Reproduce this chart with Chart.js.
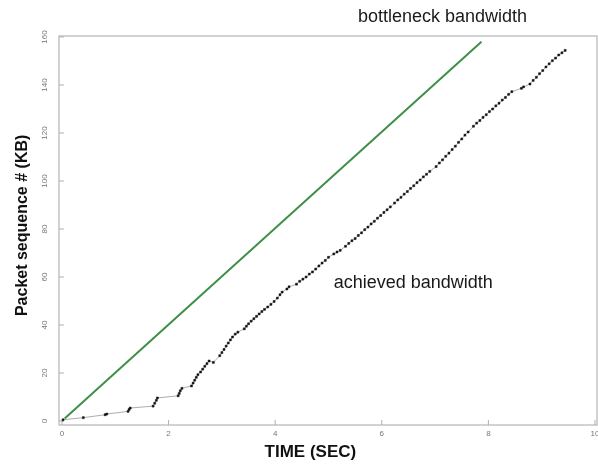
<!DOCTYPE html>
<html>
<head>
<meta charset="utf-8">
<script src="https://cdn.jsdelivr.net/npm/chart.js@4"></script>
<style>
html, body { margin: 0; padding: 0; background: #fff; }
</style>
</head>
<body>
<canvas id="chart" width="598" height="466"></canvas>
<script>
const xTicks = [0, 2, 4, 6, 8, 10];
const yTicks = [0, 20, 40, 60, 80, 100, 120, 140, 160];

// bottleneck bandwidth (straight line)
const bottleneckTime = [0.05, 7.87];
const bottleneckSeq = [1, 158];

// achieved bandwidth
const achievedTime = [
  0.02, 0.40, 0.81, 0.84, 1.24, 1.26, 1.28, 1.71, 1.74, 1.77, 1.79,
  2.18, 2.20, 2.22, 2.25, 2.43, 2.46, 2.49, 2.52, 2.55, 2.60, 2.64, 2.68, 2.72, 2.76, 2.84,
  2.96, 3.00, 3.04, 3.08, 3.12, 3.16, 3.20, 3.25, 3.30,
  3.42, 3.46, 3.50, 3.55, 3.60, 3.65, 3.70, 3.75, 3.80, 3.86, 3.92, 3.98, 4.04, 4.09, 4.13,
  4.22, 4.26,
  4.40, 4.46, 4.52, 4.58, 4.64, 4.70, 4.76, 4.82, 4.88, 4.94, 5.00,
  5.10, 5.16, 5.22, 5.32, 5.38, 5.44,
  5.50, 5.56, 5.62, 5.68, 5.74, 5.80, 5.86, 5.92, 5.98, 6.04, 6.10, 6.16,
  6.24, 6.30, 6.36, 6.42, 6.48, 6.54, 6.60, 6.66, 6.72, 6.78, 6.84, 6.90,
  7.02, 7.08, 7.14, 7.20, 7.26, 7.32, 7.38, 7.44, 7.50, 7.56, 7.62,
  7.72, 7.78, 7.84, 7.90, 7.96, 8.02, 8.08, 8.14, 8.20, 8.26, 8.32, 8.38, 8.44,
  8.62, 8.66,
  8.78, 8.84, 8.90, 8.96, 9.02, 9.08, 9.14, 9.20, 9.26, 9.32, 9.38, 9.44
];
const achievedSeq = [
  0.5, 1.4, 2.6, 2.9, 4.0, 4.8, 5.4, 6.2, 7.4, 8.6, 9.6,
  10.5, 11.5, 12.6, 13.6, 14.6, 15.8, 17.0, 18.2, 19.3, 20.4, 21.6, 22.8, 23.9, 25.0, 24.4,
  27.2, 28.5, 29.8, 31.2, 32.5, 33.8, 35.0, 36.2, 37.0,
  38.4, 39.5, 40.5, 41.6, 42.6, 43.6, 44.6, 45.6, 46.5, 47.5, 48.6, 49.8, 51.2, 52.6, 53.7,
  55.0, 55.9,
  57.0, 58.2, 59.1, 60.0, 61.2, 62.1, 63.3, 64.6, 65.8, 66.9, 68.2,
  69.6, 70.4, 71.1, 72.8, 74.0, 75.1,
  76.0, 77.3, 78.4, 79.7, 80.8, 82.1, 83.2, 84.5, 85.6, 86.9, 88.0, 89.2,
  90.8, 92.1, 93.2, 94.5, 95.6, 96.9, 98.0, 99.3, 100.4, 101.7, 102.8, 104.0,
  106.0, 107.5, 108.8, 110.3, 111.6, 113.1, 114.5, 116.1, 117.5, 119.1, 120.4,
  122.8, 124.1, 125.2, 126.5, 127.6, 128.9, 130.0, 131.3, 132.4, 133.7, 134.8, 136.1, 137.2,
  138.6, 139.2,
  140.4, 141.9, 143.2, 144.7, 146.0, 147.5, 148.8, 150.1, 151.2, 152.5, 153.4, 154.4
];

const FONT = '"Liberation Sans", Arial, sans-serif';

const framePlugin = {
  id: 'frame',
  beforeDatasetsDraw(chart) {
    const {ctx, chartArea: a, scales} = chart;
    ctx.save();
    ctx.strokeStyle = '#c4c4c4';
    ctx.lineWidth = 1.5;
    ctx.strokeRect(a.left, a.top, a.right - a.left, a.bottom - a.top);
    // inward tick marks
    ctx.lineWidth = 1;
    ctx.strokeStyle = '#b0b0b0';
    ctx.beginPath();
    scales.x.ticks.forEach(t => {
      const px = scales.x.getPixelForValue(t.value);
      ctx.moveTo(px, a.bottom);
      ctx.lineTo(px, a.bottom - 5);
    });
    scales.y.ticks.forEach(t => {
      const py = scales.y.getPixelForValue(t.value);
      ctx.moveTo(a.left, py);
      ctx.lineTo(a.left + 5, py);
    });
    ctx.stroke();
    ctx.restore();
  }
};

// annotations and axis titles
const labelPlugin = {
  id: 'labels',
  afterDraw(chart) {
    const {ctx, scales} = chart;
    ctx.save();
    ctx.fillStyle = '#1a1a1a';
    ctx.font = '18px ' + FONT;
    ctx.textAlign = 'center';
    ctx.textBaseline = 'middle';
    ctx.fillText('bottleneck bandwidth', scales.x.getPixelForValue(7.14), scales.y.getPixelForValue(168.5));
    ctx.fillText('achieved bandwidth', scales.x.getPixelForValue(6.59), scales.y.getPixelForValue(57.5));

    ctx.fillStyle = '#111';
    ctx.font = 'bold 17px ' + FONT;
    ctx.fillText('TIME (SEC)', scales.x.getPixelForValue(4.66), 452);

    ctx.font = 'bold 16px ' + FONT;
    ctx.translate(23, scales.y.getPixelForValue(81.5));
    ctx.rotate(-Math.PI / 2);
    ctx.fillText('Packet sequence # (KB)', 0, 0);
    ctx.restore();
  }
};

new Chart(document.getElementById('chart'), {
  type: 'scatter',
  data: {
    datasets: [
      {
        label: 'bottleneck',
        data: bottleneckTime.map((t, i) => ({x: t, y: bottleneckSeq[i]})),
        showLine: true,
        borderColor: '#3f8f48',
        borderWidth: 2,
        pointRadius: 0
      },
      {
        label: 'achieved',
        data: achievedTime.map((t, i) => ({x: t, y: achievedSeq[i]})),
        showLine: true,
        borderColor: '#8a8a8a',
        borderWidth: 0.7,
        pointStyle: 'rect',
        pointRadius: 1.4,
        pointBackgroundColor: '#111',
        pointBorderColor: '#111',
        pointBorderWidth: 0.5
      }
    ]
  },
  options: {
    responsive: false,
    animation: false,
    devicePixelRatio: 1,
    layout: { autoPadding: false, padding: { top: 36, right: 1, left: 0, bottom: 0 } },
    plugins: {
      legend: { display: false },
      tooltip: { enabled: false }
    },
    scales: {
      x: {
        type: 'linear',
        min: -0.056,
        max: 10.038,
        afterBuildTicks: s => { s.ticks = xTicks.map(v => ({value: v})); },
        afterFit: s => { s.height = 41; s.paddingLeft = 0; s.paddingRight = 0; },
        afterUpdate: s => { s.paddingLeft = 0; s.paddingRight = 0; },
        grid: { display: false, drawTicks: false },
        border: { display: false },
        ticks: { font: { size: 8, family: FONT }, color: '#777', padding: 4, maxRotation: 0 },
        title: { display: false }
      },
      y: {
        type: 'linear',
        min: -1.67,
        max: 160.4,
        afterBuildTicks: s => { s.ticks = yTicks.map(v => ({value: v})); },
        afterFit: s => { s.width = 59; s.paddingTop = 0; s.paddingBottom = 0; },
        grid: { display: false, drawTicks: false },
        border: { display: false },
        ticks: { font: { size: 8, family: FONT }, color: '#777', padding: 8, minRotation: 90, maxRotation: 90, crossAlign: 'center' },
        title: { display: false }
      }
    }
  },
  plugins: [framePlugin, labelPlugin]
});
</script>
</body>
</html>
